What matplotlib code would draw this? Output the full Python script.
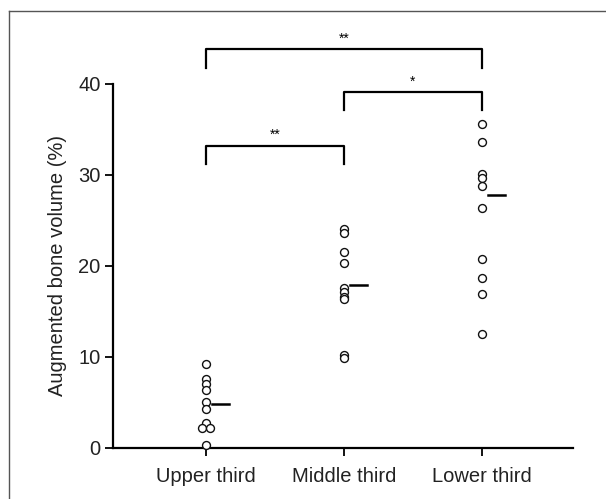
import numpy as np
import matplotlib
matplotlib.use("Agg")
import matplotlib.pyplot as plt
from matplotlib.lines import Line2D

plt.rcParams['font.family'] = ['Liberation Sans', 'DejaVu Sans']

# values (%)
groups = ["Upper third", "Middle third", "Lower third"]
upper = [9.2, 7.5, 7.0, 6.3, 5.0, 4.2, 2.7, 2.1, 2.1, 0.3]
middle = [24.0, 23.6, 21.5, 20.3, 17.6, 17.1, 16.6, 16.3, 10.2, 9.8]
lower = [35.6, 33.6, 30.1, 29.6, 28.8, 26.3, 20.7, 18.7, 16.9, 12.5]
medians = [4.8, 17.9, 27.8]

# significance brackets: (from group, to group, label)
comparisons = [(0, 2, "**"), (1, 2, "*"), (0, 1, "**")]
bracket_levels = [43.8, 39.1, 33.2]

fig = plt.figure(figsize=(6.06, 4.99), dpi=100)
ax = fig.add_axes([0.1865, 0.1032, 0.759, 0.7285])

xpos = np.arange(1, len(groups) + 1)


def dodge(vals, step=0.03):
    # spread identical values side by side, like a column scatter
    offs = np.zeros(len(vals))
    vals = np.asarray(vals)
    for v in np.unique(vals):
        idx = np.where(vals == v)[0]
        if len(idx) > 1:
            offs[idx] = (np.arange(len(idx)) - (len(idx) - 1) / 2) * 2 * step
    return offs


for x, vals in zip(xpos, [upper, middle, lower]):
    ax.plot(x + dodge(vals), vals, 'o', ms=5.7, mfc='white', mec='#111111',
            mew=1.0, linestyle='none', clip_on=False, zorder=3)

for x, m in zip(xpos, medians):
    ax.plot([x + 0.045, x + 0.17], [m, m], color='black', lw=1.8)

leg = 2.0
for (a, b, lab), h in zip(comparisons, bracket_levels):
    x1, x2 = xpos[a], xpos[b]
    ax.plot([x1, x1, x2, x2], [h - leg, h, h, h - leg], color='black',
            lw=1.6, clip_on=False)
    ax.text((x1 + x2) / 2, h + 0.4, lab, ha='center', va='bottom',
            fontsize=10, clip_on=False)

ax.set_xlim(0.326, 3.66)
ax.set_ylim(0, 40)
ax.set_xticks(xpos)
ax.set_xticklabels(groups)
ax.set_yticks([0, 10, 20, 30, 40])
ax.set_ylabel("Augmented bone volume (%)", fontsize=14.5, labelpad=8,
              color='#222222')
ax.tick_params(labelsize=14.5, width=1.3, length=6, pad=3,
               labelcolor='#222222')
ax.tick_params(axis='x', pad=8)
for s in ['top', 'right']:
    ax.spines[s].set_visible(False)
for s in ['left', 'bottom']:
    ax.spines[s].set_linewidth(1.6)

# thin frame around the figure (top and left edges only visible)
W, H = 606, 499
fig.add_artist(Line2D([8.5 / W, 1.0], [1 - 11 / H, 1 - 11 / H],
                      transform=fig.transFigure, color='#555555', lw=1.0))
fig.add_artist(Line2D([8.5 / W, 8.5 / W], [0.0, 1 - 11 / H],
                      transform=fig.transFigure, color='#555555', lw=1.0))

fig.savefig("out.png", dpi=100)
